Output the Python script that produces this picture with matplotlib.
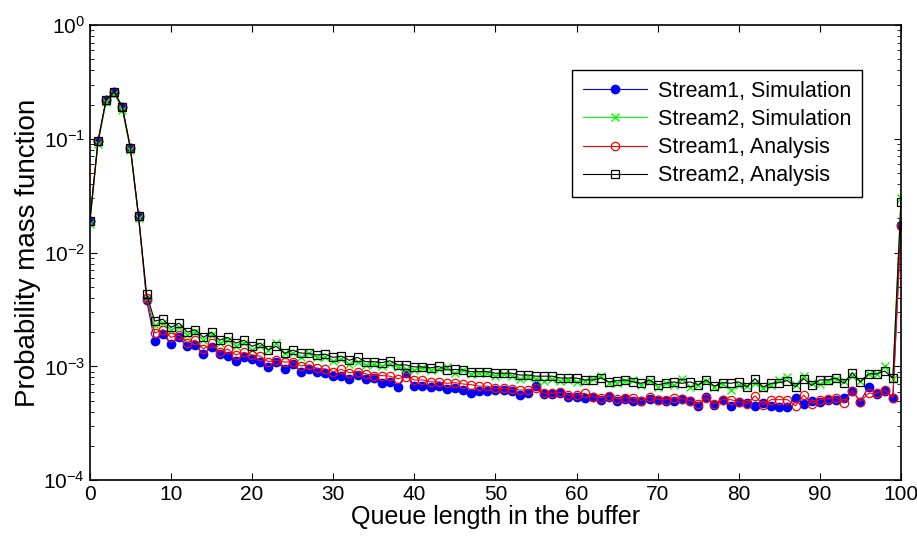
import matplotlib
matplotlib.use("Agg")
import matplotlib.pyplot as plt
import numpy as np

plt.rcParams['font.family'] = ['Liberation Sans', 'DejaVu Sans']
plt.rcParams['mathtext.fontset'] = 'custom'
plt.rcParams['mathtext.rm'] = 'Liberation Sans'
plt.rcParams['mathtext.default'] = 'regular'

x = list(range(0, 101))

stream1_sim = [
    0.019, 0.095, 0.22, 0.26, 0.19, 0.083, 0.021, 0.0038,
    0.00168, 0.00191, 0.00158, 0.0018, 0.0015, 0.00155, 0.00128, 0.00147,
    0.00128, 0.00123, 0.00112, 0.0012, 0.00115, 0.0011, 0.00099, 0.0011,
    0.00095, 0.00104, 0.0009, 0.00094, 0.0009, 0.00088,
    0.00082, 0.00083, 0.00078, 0.00084, 0.00078, 0.00079, 0.00072, 0.00073,
    0.00066, 0.00088, 0.00067, 0.00067, 0.00066, 0.00067, 0.00063, 0.00064,
    0.00062, 0.00058, 0.00061, 0.00061, 0.00062, 0.00062, 0.00061,
    0.00056, 0.00058, 0.00067, 0.00057, 0.00057, 0.00058, 0.00054, 0.00054,
    0.00053, 0.00054, 0.00051, 0.00054, 0.0005, 0.00052, 0.0005, 0.0005,
    0.00052, 0.00051, 0.0005, 0.0005, 0.00052, 0.0005,
    0.00045, 0.00054, 0.00046, 0.00051, 0.00045, 0.00049, 0.00048, 0.00045,
    0.00048, 0.00045, 0.00044, 0.00044, 0.00053, 0.00047, 0.0005, 0.00049,
    0.00051, 0.00051, 0.00053, 0.00061, 0.00049, 0.00066, 0.00057, 0.00061,
    0.00053, 0.0175,
]

stream2_sim = [
    0.018, 0.09, 0.21, 0.25, 0.18, 0.08, 0.020, 0.0040,
    0.0023, 0.0024, 0.0021, 0.0022, 0.0019, 0.0020, 0.0017, 0.0019,
    0.0016, 0.0017, 0.0015, 0.0016, 0.0014, 0.0015, 0.0014, 0.0016,
    0.0013, 0.0013, 0.0012, 0.0013, 0.0012, 0.0012,
    0.00112, 0.00115, 0.00105, 0.0011, 0.00102, 0.00104, 0.001, 0.00105,
    0.00098, 0.00095, 0.00093, 0.00097, 0.00092, 0.00095, 0.00098, 0.00088,
    0.00092, 0.00086, 0.00088, 0.00087, 0.00082, 0.00085, 0.00083,
    0.00078, 0.0008, 0.00078, 0.00075, 0.00078, 0.00074, 0.00076, 0.00073,
    0.00075, 0.00078, 0.00082, 0.00072, 0.00072, 0.00074, 0.00076, 0.00068,
    0.00075, 0.00066, 0.00072, 0.00068, 0.00078, 0.00066,
    0.00068, 0.00074, 0.00066, 0.0007, 0.00062, 0.00068, 0.00067, 0.00072,
    0.00064, 0.00069, 0.00076, 0.0008, 0.00068, 0.00082, 0.00072, 0.0007,
    0.00074, 0.00078, 0.00075, 0.00082, 0.00074, 0.00085, 0.00085, 0.001,
    0.00078, 0.030,
]

stream1_ana = [
    0.019, 0.095, 0.22, 0.26, 0.19, 0.083, 0.021, 0.0040,
    0.00196, 0.0021, 0.0018, 0.00189, 0.00162, 0.0017, 0.00142, 0.00159,
    0.00133, 0.00142, 0.00126, 0.00133, 0.00126, 0.00123, 0.0011, 0.00113,
    0.00109, 0.0011, 0.00101, 0.00103, 0.00096, 0.00095,
    0.0009, 0.00094, 0.00088, 0.0009, 0.00086, 0.00083, 0.00083, 0.00082,
    0.00078, 0.00081, 0.00076, 0.00076, 0.00073, 0.00073, 0.00071, 0.00072,
    0.0007, 0.00069, 0.00067, 0.00067, 0.00064, 0.00064, 0.00063,
    0.00062, 0.00062, 0.00064, 0.00058, 0.00058, 0.00059, 0.00056, 0.00056,
    0.00058, 0.00054, 0.00053, 0.00055, 0.00052, 0.00053, 0.00053, 0.0005,
    0.00054, 0.00051, 0.00051, 0.00053, 0.00052, 0.0005,
    0.00047, 0.00053, 0.00047, 0.00051, 0.00051, 0.00049, 0.00047, 0.00055,
    0.00046, 0.00051, 0.00051, 0.00051, 0.00045, 0.00056, 0.00047, 0.00051,
    0.00052, 0.00053, 0.00048, 0.00061, 0.00049, 0.00058, 0.00058, 0.00062,
    0.00053, 0.017,
]

stream2_ana = [
    0.019, 0.095, 0.22, 0.26, 0.19, 0.083, 0.021, 0.0043,
    0.0025, 0.0026, 0.0022, 0.0024, 0.0020, 0.0021, 0.0018, 0.0020,
    0.0017, 0.0018, 0.0016, 0.0017, 0.0015, 0.0016, 0.0014, 0.0015,
    0.0013, 0.00139, 0.00131, 0.0013, 0.00126, 0.00128,
    0.0012, 0.00123, 0.00113, 0.0012, 0.0011, 0.0011, 0.00108, 0.00112,
    0.00103, 0.00103, 0.00099, 0.00099, 0.00097, 0.001, 0.00093, 0.00094,
    0.00093, 0.0009, 0.0009, 0.0009, 0.00087, 0.00087, 0.00087,
    0.00084, 0.00084, 0.00082, 0.00082, 0.00082, 0.00079, 0.00079, 0.00079,
    0.00076, 0.00076, 0.00079, 0.00073, 0.00075, 0.00076, 0.00073, 0.00071,
    0.00076, 0.00069, 0.00071, 0.00073, 0.00071, 0.00073,
    0.00069, 0.00076, 0.00067, 0.00072, 0.00071, 0.00073, 0.00066, 0.00078,
    0.00066, 0.00071, 0.00072, 0.00075, 0.00066, 0.00078, 0.00068, 0.00076,
    0.00076, 0.00079, 0.00071, 0.00088, 0.00073, 0.00086, 0.00086, 0.00091,
    0.00079, 0.028,
]

fig = plt.figure(figsize=(9.17, 5.45), dpi=100)
ax = fig.add_axes([0.098, 0.119, 0.8845, 0.835])

ax.plot(x, stream1_sim, color='#0000ff', lw=0.8, marker='o', ms=6,
        mfc='#0000ff', mec='#0000ff', label='Stream1, Simulation')
ax.plot(x, stream2_sim, color='#00ff00', lw=0.8, marker='x', ms=6,
        mew=1.0, label='Stream2, Simulation')
ax.plot(x, stream1_ana, color='#ff0000', lw=0.8, marker='o', ms=6,
        mfc='none', mec='#ff0000', mew=0.9, label='Stream1, Analysis')
ax.plot(x, stream2_ana, color='black', lw=0.8, marker='s', ms=6,
        mfc='none', mec='black', mew=0.9, label='Stream2, Analysis')

ax.set_yscale('log')
ax.set_xlim(0, 100)
ax.set_ylim(1e-4, 1e0)
ax.set_xticks(range(0, 101, 10))
ax.tick_params(which='both', direction='in', top=True, right=True,
               labelsize=15)
ax.tick_params(which='major', length=5)
ax.tick_params(which='minor', length=3)
for s in ax.spines.values():
    s.set_linewidth(1.2)

ax.set_xlabel('Queue length in the buffer', fontsize=18, labelpad=1)
ax.set_ylabel('Probability mass function', fontsize=20, labelpad=2)

leg = ax.legend(loc='upper right', bbox_to_anchor=(0.952, 0.901),
                borderaxespad=0.0,
                fancybox=False, framealpha=1, edgecolor='black',
                fontsize=15.5, handlelength=3.0, borderpad=0.5,
                labelspacing=0.33, handletextpad=0.5)
leg.get_frame().set_linewidth(1.0)

fig.savefig('out.png', dpi=100)
